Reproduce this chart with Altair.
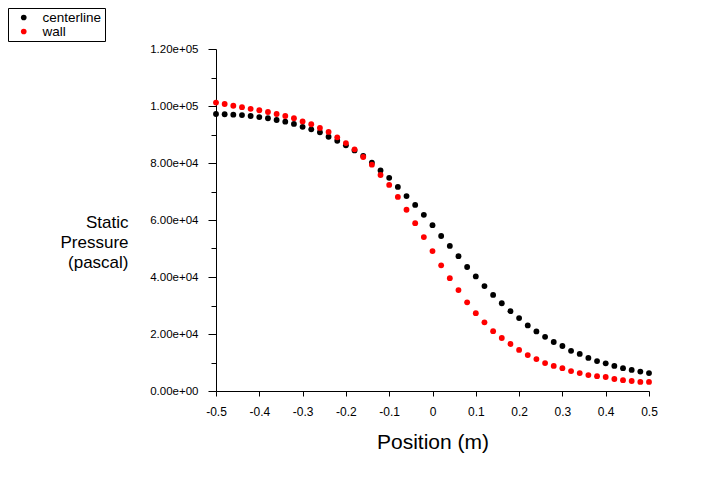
import altair as alt
import pandas as pd

positions = [-0.50, -0.48, -0.46, -0.44, -0.42, -0.40, -0.38, -0.36, -0.34, -0.32,
             -0.30, -0.28, -0.26, -0.24, -0.22, -0.20, -0.18, -0.16, -0.14, -0.12,
             -0.10, -0.08, -0.06, -0.04, -0.02, 0.00, 0.02, 0.04, 0.06, 0.08,
             0.10, 0.12, 0.14, 0.16, 0.18, 0.20, 0.22, 0.24, 0.26, 0.28,
             0.30, 0.32, 0.34, 0.36, 0.38, 0.40, 0.42, 0.44, 0.46, 0.48, 0.50]

centerline = [97200, 97100, 96950, 96800, 96500, 96100, 95700, 95100, 94500, 93700,
              92700, 91800, 90800, 89200, 87800, 86200, 84400, 82500, 80100, 77400,
              74800, 71600, 68400, 65300, 61800, 58200, 54400, 50900, 47300, 43500,
              40200, 36800, 33700, 30800, 28000, 25600, 23000, 20900, 19000, 17200,
              15800, 14100, 13000, 11600, 10500, 9700, 8800, 8000, 7400, 6800, 6300]

wall = [101200, 100700, 100100, 99600, 99000, 98500, 97900, 97200, 96500, 95700,
        94600, 93600, 92300, 90900, 89000, 87000, 84800, 82100, 79400, 75800,
        72300, 68100, 63600, 58900, 54000, 49100, 44100, 39600, 35400, 31100,
        27300, 24100, 21000, 18600, 16500, 14400, 12600, 11200, 9800, 8800,
        8000, 7000, 6300, 5600, 5200, 4900, 4200, 3800, 3500, 3200, 3200]

series_names = ["centerline", "wall"]
series_colors = ["#000000", "#ff0000"]

x_ticks = [-0.5, -0.4, -0.3, -0.2, -0.1, 0.0, 0.1, 0.2, 0.3, 0.4, 0.5]
y_ticks = [0, 10000, 20000, 30000, 40000, 50000, 60000, 70000, 80000, 90000,
           100000, 110000, 120000]

df = pd.DataFrame({
    "Position": positions + positions,
    "Pressure": centerline + wall,
    "Series": [series_names[0]] * len(centerline) + [series_names[1]] * len(wall),
})

FONT = "Liberation Sans, Arial, sans-serif"
NB = "\u00a0" * 9

x_axis = alt.Axis(
    values=x_ticks,
    labelExpr="datum.value == 0 ? '0' : (datum.value < 0 ? '-' : '') + format(abs(datum.value), '.1f')",
    tickSize=5, tickColor="black", domainColor="black", grid=False,
    labelPadding=10, labelFontSize=12, labelFont=FONT, labelColor="black",
    labelFlush=False, labelOverlap=False,
    title="Position (m)", titleFont=FONT, titleFontSize=21, titleFontWeight="normal",
    titleColor="black", titleBaseline="alphabetic", titleY=57,
)

y_axis = alt.Axis(
    values=y_ticks,
    labelExpr=("datum.value % 20000 != 0 ? '' : datum.value == 0 ? '0.00e+00' : "
               "datum.value < 100000 ? format(datum.value / 10000, '.2f') + 'e+04' : "
               "format(datum.value / 100000, '.2f') + 'e+05'"),
    tickSize={"condition": {"test": "datum.value % 20000 != 0", "value": 5}, "value": 8},
    tickColor="black", domainColor="black", grid=False,
    labelPadding=10, labelFontSize=11.5, labelFont=FONT, labelColor="black",
    labelFlush=False, labelOverlap=False,
    title=["Static", "Pressure", "(pascal)"], titleAngle=0, titleAlign="right",
    titleBaseline="middle", titleX=-88, titleY=173, titleFont=FONT, titleFontSize=17,
    titleLineHeight=20, titleFontWeight="normal", titleColor="black",
)

legend = alt.Legend(
    orient="none", legendX=-208, legendY=-41, title=None, direction="vertical",
    labelFont=FONT, labelFontSize=13.5, labelColor="black",
    labelExpr="datum.label == 'centerline' ? 'centerline" + NB + "' : datum.label",
    symbolType="circle", symbolSize=32, symbolStrokeWidth=0,
    strokeColor="black", fillColor="white", padding=3, symbolOffset=6,
    labelOffset=12, rowPadding=0, clipHeight=13,
)

chart = alt.Chart(df).mark_circle(size=34, opacity=1).encode(
    x=alt.X("Position:Q", scale=alt.Scale(domain=[-0.5, 0.5], nice=False, zero=False), axis=x_axis),
    y=alt.Y("Pressure:Q", scale=alt.Scale(domain=[0, 120000], nice=False), axis=y_axis),
    color=alt.Color("Series:N", scale=alt.Scale(domain=series_names, range=series_colors), legend=legend),
).properties(
    width=433, height=342,
    autosize=alt.AutoSizeParams(type="none"),
    padding={"left": 208, "top": 41, "right": 50, "bottom": 75},
    background="white",
).configure_view(stroke=None)

chart.save("out.html", embed_options={"renderer": "svg", "actions": False})
